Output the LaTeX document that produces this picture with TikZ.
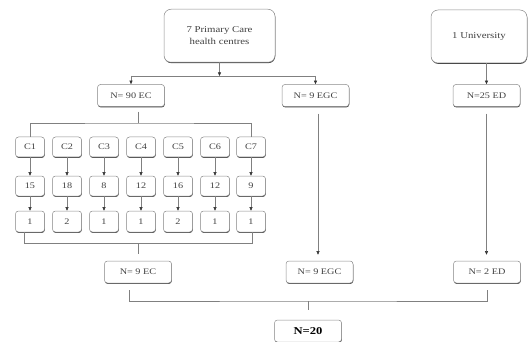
\documentclass[tikz,border=0pt]{standalone}
\usepackage{fontspec}
\setmainfont{Liberation Serif}[FakeStretch=1.2]
\usetikzlibrary{shadows,arrows.meta,calc}
\begin{document}
\begin{tikzpicture}[x=1pt,y=-1pt,
  box/.style={draw=black!45, fill=white, rounded corners=3pt, line width=0.5pt,
    inner sep=0pt, text=black!75, font=\fontsize{8.5}{10}\selectfont,
    general shadow={fill=black!75, shadow yshift=-0.9pt, shadow xshift=0.3pt}},
  bigbox/.style={box, rounded corners=7pt, minimum width=111pt, minimum height=53pt,
    align=center, font=\fontsize{9}{12.5}\selectfont},
  nbox/.style={box, minimum width=67pt, minimum height=22pt},
  cbox/.style={box, minimum width=29pt, minimum height=20pt},
  conn/.style={draw=black!50, line width=0.5pt},
  arr/.style={conn, -{Triangle[length=3.6pt,width=3pt,color=black!80]}}]
\useasboundingbox (0,0) rectangle (530,342);

% top level
\node[bigbox] (top) at (219.5,35.75) {7 Primary Care\\health centres};
\node[bigbox, minimum width=96pt] (univ) at (479,36.5) {1 University};

% second level
\node[nbox] (ec90) at (131,95.5) {N= 90 EC};
\node[nbox] (egcA) at (315.5,95.5) {N= 9 EGC};
\node[nbox] (ed25) at (486.5,95.5) {N=25 ED};

% centres
\foreach \i/\x/\a/\b in {1/30/15/1, 2/67/18/2, 3/104/8/1, 4/141/12/1, 5/178/16/2, 6/215/12/1, 7/251/9/1}{
  \node[cbox] (c\i) at (\x,147) {C\i};
  \node[cbox] (n\i) at (\x,186) {\a};
  \node[cbox, minimum height=21pt] (m\i) at (\x,221.5) {\b};
  \draw[arr] (c\i) -- (n\i);
  \draw[arr] (n\i) -- (m\i);
}

% third level
\node[nbox] (ec9) at (138,272) {N= 9 EC};
\node[nbox] (egcB) at (319.5,272) {N= 9 EGC};
\node[nbox] (ed2) at (487,272) {N= 2 ED};

% total
\node[nbox, font=\fontsize{10.5}{12}\selectfont\bfseries, text=black] (tot) at (308,331) {N=20};

% connectors top
\coordinate (j1) at (219.5,76);
\draw[arr] (top) -- (j1);
\draw[conn] (ec90.north |- j1) -- (egcA.north |- j1);
\draw[arr] (ec90.north |- j1) -- (ec90.north);
\draw[arr] (egcA.north |- j1) -- (egcA.north);
\draw[arr] (univ.south -| ed25) -- (ed25.north);

% bracket to centres
\coordinate (b1) at (138,123);
\draw[conn, shorten <=5pt] (ec90.south -| b1) -- (b1);
\draw[conn] (c1.north) |- (b1) -| (c7.north);

% bracket from centres
\coordinate (b2) at (138,243.5);
\draw[conn] ([xshift=-6pt]m1.south) |- (b2) -| ([xshift=1.5pt]m7.south);
\draw[conn, shorten >=7pt] (b2) -- (ec9.north);

% long arrows
\draw[arr, shorten <=7pt, shorten >=6pt] ([xshift=2.5pt]egcA.south) -- ([xshift=-1.5pt]egcB.north);
\draw[arr, shorten <=7pt, shorten >=6pt] (ed25.south) -- (ed25.south |- ed2.north);

% final bracket
\coordinate (b3) at (308,301);
\draw[conn, shorten <=7pt, shorten >=7pt] ([xshift=-8.5pt]ec9.south) |- (b3) -| (ed2.south);
\draw[conn, shorten >=9.5pt] (b3) -- (tot.north);
\end{tikzpicture}
\end{document}
